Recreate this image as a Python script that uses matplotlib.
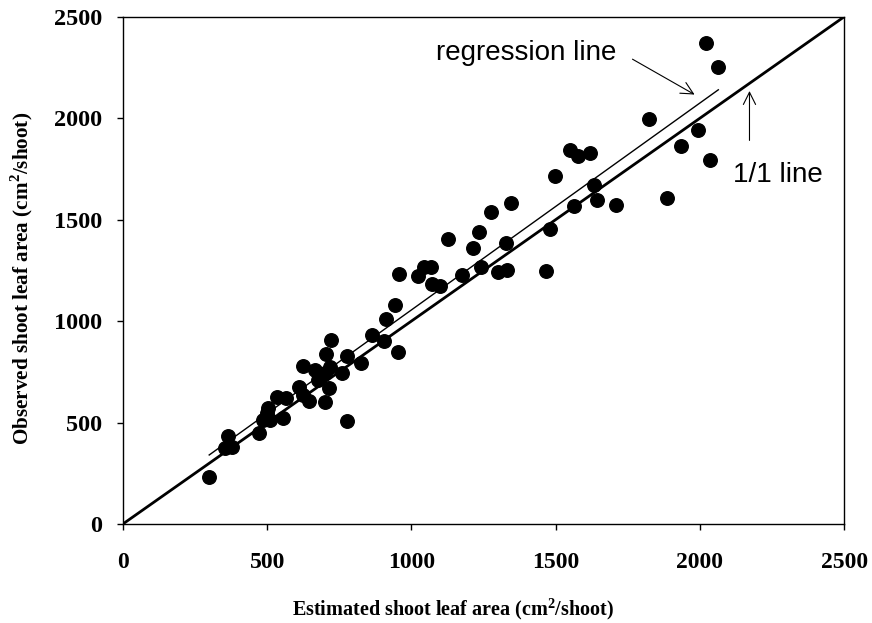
import matplotlib.pyplot as plt
import numpy as np

plt.rcParams['mathtext.fontset'] = 'custom'
plt.rcParams['mathtext.rm'] = 'Liberation Serif:bold'
plt.rcParams['mathtext.bf'] = 'Liberation Serif:bold'

# estimated vs observed shoot leaf area (cm2/shoot)
est = [299, 365, 354, 377, 473, 487, 498, 504, 510, 554, 535, 565, 611, 623,
       646, 625, 666, 676, 700, 718, 703, 720, 716, 700, 760, 776, 824, 778,
       862, 905, 955, 911, 943, 958, 1024, 1044, 1067, 1070, 1099, 1128, 1176,
       1215, 1236, 1240, 1275, 1327, 1301, 1330, 1344, 1467, 1481, 1498, 1564,
       1633, 1645, 1708, 1550, 1579, 1619, 2021, 2064, 1824, 1993, 1935, 2035,
       1885]
obs = [232, 434, 376, 381, 450, 513, 546, 570, 513, 524, 625, 620, 677, 636,
       606, 781, 759, 710, 743, 776, 837, 907, 669, 603, 743, 828, 795, 508,
       929, 904, 850, 1011, 1077, 1231, 1223, 1269, 1269, 1182, 1174, 1405, 1228,
       1360, 1437, 1269, 1537, 1384, 1244, 1252, 1581, 1248, 1455, 1716, 1565,
       1672, 1598, 1570, 1844, 1815, 1828, 2373, 2255, 1997, 1940, 1861, 1795,
       1609]

# regression line y = a + b*x over the data range
reg_a = 35
reg_b = 1.02
reg_x = np.array([299, 2064])

fig = plt.figure(figsize=(8.72, 6.23), dpi=100)
ax = fig.add_axes([0.141, 0.159, 0.827, 0.814])

ax.plot([0, 2500], [0, 2500], color='black', lw=2.0, zorder=2)
ax.plot(reg_x, reg_a + reg_b * reg_x, color='black', lw=1.0, zorder=2)
ax.scatter(est, obs, s=95, color='black', zorder=3)

ax.set_xlim(0, 2500)
ax.set_ylim(0, 2500)
ax.set_xticks([0, 500, 1000, 1500, 2000, 2500])
ax.set_yticks([0, 500, 1000, 1500, 2000, 2500])
ax.tick_params(direction='out', length=4, width=1)
ax.tick_params(axis='x', pad=16)
ax.tick_params(axis='y', pad=11)
for lab in ax.get_xticklabels():
    lab.set_fontfamily('Liberation Serif')
    lab.set_fontweight('bold')
    lab.set_fontsize(17)
for lab in ax.get_yticklabels():
    lab.set_fontfamily('Liberation Serif')
    lab.set_fontweight('bold')
    lab.set_fontsize(17.5)
for sp in ax.spines.values():
    sp.set_linewidth(1.0)

ax.set_xlabel('Estimated shoot leaf area (cm$^{2}$/shoot)', family='Liberation Serif',
              fontweight='bold', fontsize=14.5, va='baseline')
ax.set_ylabel('Observed shoot leaf area (cm$^{2}$/shoot)', family='Liberation Serif',
              fontweight='bold', fontsize=15.2, va='center')
ax.xaxis.set_label_coords(0.458, -0.1795)
ax.yaxis.set_label_coords(-0.141, 0.485)

ax.annotate('regression line', xy=(1990, 2110), xytext=(1085, 2288),
            family='Liberation Sans', fontsize=20, va='baseline', ha='left')
ax.annotate('', xy=(1990, 2110), xytext=(1758, 2298),
            arrowprops=dict(arrowstyle='->', color='black', lw=0.8,
                            mutation_scale=22))
ax.annotate('1/1 line', xy=(2172, 2148), xytext=(2115, 1686),
            family='Liberation Sans', fontsize=20, va='baseline', ha='left')
ax.annotate('', xy=(2172, 2148), xytext=(2172, 1877),
            arrowprops=dict(arrowstyle='->', color='black', lw=0.8,
                            mutation_scale=22))

plt.savefig('out.png', dpi=100)
